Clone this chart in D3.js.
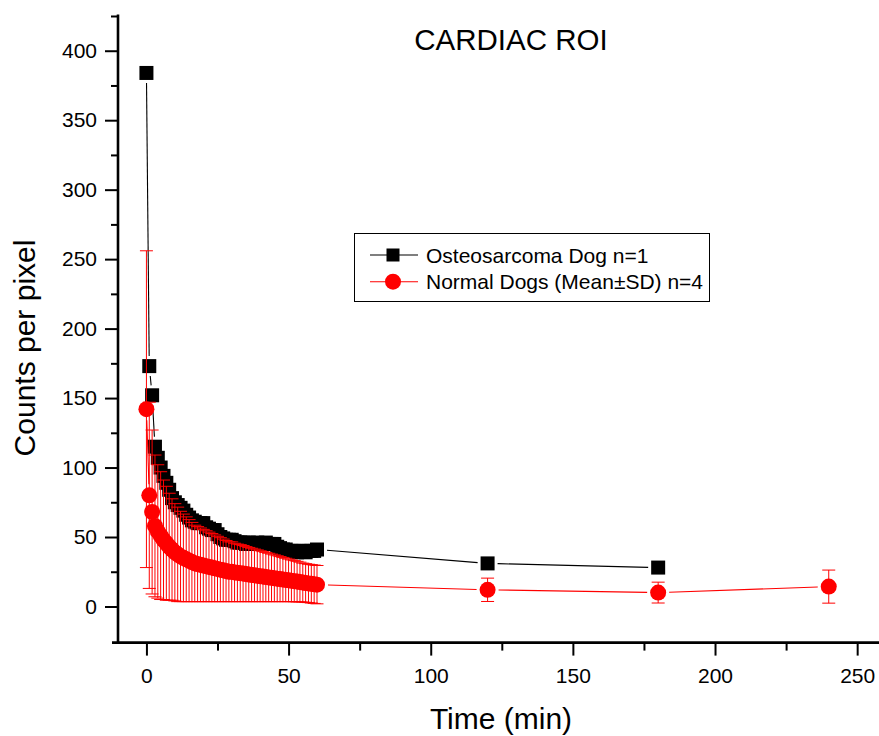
<!DOCTYPE html>
<html>
<head>
<meta charset="utf-8">
<script src="https://cdn.jsdelivr.net/npm/d3@7"></script>
<style>
  body { margin: 0; background: #fff; }
  svg { display: block; }
  text { font-family: Arial, "Liberation Sans", sans-serif; fill: #000; }
</style>
</head>
<body>
<svg id="chart" width="879" height="736"></svg>
<script>
// Cardiac ROI time-activity curves
const chartTitle = "CARDIAC ROI";
const xLabel = "Time (min)";
const yLabel = "Counts per pixel";
const seriesNames = ["Osteosarcoma Dog n=1", "Normal Dogs (Mean\u00B1SD) n=4"];

// Osteosarcoma dog (single animal)
const osteoTime = [0,1,2,3,4,5,6,7,8,9,10,11,12,13,14,15,16,17,18,19,20,21,22,23,24,25,26,27,28,29,30,
  31,32,33,34,35,36,37,38,39,40,41,42,43,44,45,46,47,48,49,50,51,52,53,54,55,56,57,58,59,60,120,180];
const osteoCounts = [384,173,152,115,107,100,94,89,84,78,
  75,73,71,69,66,64,62,61,60,60,
  60,57,56,55,55,52,50,49,48,48,
  48,47,46,46,46,45,46,45,45,46,
  45,45,46,45,45,45,43,42,41,41,
  40,40,40,39,40,40,39,40,40,40,41,
  31,28];

// Normal dogs (mean and SD, n=4)
const normalTime = [0,1,2,3,4,5,6,7,8,9,10,11,12,13,14,15,16,17,18,19,20,21,22,23,24,25,26,27,28,29,30,
  31,32,33,34,35,36,37,38,39,40,41,42,43,44,45,46,47,48,49,50,51,52,53,54,55,56,57,58,59,60,120,180,240];
const normalMean = [142,80,68,58,54,51,48,45.5,43,41,
  39,37.5,36,35,34,33,32,31,30.5,30,
  29.5,29,28.5,28,27.5,27,26.5,26,25.5,25,
  25,24.5,24.2,24,23.7,23.3,23,22.7,22.4,22.1,
  21.8,21.5,21.2,20.9,20.6,20.3,20,19.7,19.4,19.1,
  18.8,18.5,18.2,17.9,17.6,17.2,16.9,16.6,16.3,16,15.7,
  12,10,14.3];
const normalSD = [114,67,59,51,48,46,43,41,38.5,36.5,
  35,34,32.5,31.5,30.5,29.5,28.5,27.5,27,26.5,
  26,25.5,25,24.5,24,23.5,23,22.5,22,21.5,
  21.5,21,20.7,20.5,20.2,19.8,19.5,19.2,18.9,18.6,
  18.3,18,17.7,17.4,17.1,16.8,16.5,16.2,15.9,15.6,
  15.3,15,14.8,14.6,14.3,14,13.9,13.8,13.8,13.8,13.8,
  8.4,7.5,11.9];

// Axis ticks
const xMajorTicks = [0,50,100,150,200,250];
const xMinorTicks = [25,75,125,175,225];
const yMajorTicks = [0,50,100,150,200,250,300,350,400];
const yMinorTicks = [25,75,125,175,225,275,325,375,425];

const svg = d3.select("#chart");
svg.append("rect").attr("width", 879).attr("height", 736).attr("fill", "#fff");

const x = d3.scaleLinear().domain([-10, 260]).range([118, 885.6]);
const y = d3.scaleLinear().domain([-26, 426]).range([642.6, 14.6]);

const RED = "#ff0000";
const SQ = 14, R = 8, CAP = 13;

// connecting line split into segments with a small gap around each symbol
function drawGappedLine(g, xs, ys, gap, color) {
  for (let i = 0; i < xs.length - 1; i++) {
    const x1 = x(xs[i]), y1 = y(ys[i]), x2 = x(xs[i + 1]), y2 = y(ys[i + 1]);
    const dx = x2 - x1, dy = y2 - y1, len = Math.hypot(dx, dy);
    if (len <= 2 * gap) continue;
    const ux = dx / len, uy = dy / len;
    g.append("line")
      .attr("x1", x1 + ux * gap).attr("y1", y1 + uy * gap)
      .attr("x2", x2 - ux * gap).attr("y2", y2 - uy * gap)
      .attr("stroke", color).attr("stroke-width", 1.1);
  }
}

const plot = svg.append("g");

// Osteosarcoma series
drawGappedLine(plot.append("g"), osteoTime, osteoCounts, SQ / 2 + 3, "#000");
plot.append("g").selectAll("rect")
  .data(osteoTime.map((t, i) => [t, osteoCounts[i]]))
  .join("rect")
  .attr("x", d => x(d[0]) - SQ / 2)
  .attr("y", d => y(d[1]) - SQ / 2)
  .attr("width", SQ).attr("height", SQ)
  .attr("fill", "#000");

// Normal dogs series
drawGappedLine(plot.append("g"), normalTime, normalMean, R + 3, RED);
const normalData = normalTime.map((t, i) => ({ t, m: normalMean[i], sd: normalSD[i] }));
const eb = plot.append("g").attr("stroke", RED).attr("stroke-width", 1);
normalData.forEach(d => {
  const cx = x(d.t), yTop = y(d.m + d.sd), yBot = y(d.m - d.sd);
  eb.append("line").attr("x1", cx).attr("x2", cx).attr("y1", yTop).attr("y2", yBot);
  eb.append("line").attr("x1", cx - CAP / 2).attr("x2", cx + CAP / 2).attr("y1", yTop).attr("y2", yTop);
  eb.append("line").attr("x1", cx - CAP / 2).attr("x2", cx + CAP / 2).attr("y1", yBot).attr("y2", yBot);
});
plot.append("g").selectAll("circle")
  .data(normalData)
  .join("circle")
  .attr("cx", d => x(d.t))
  .attr("cy", d => y(d.m))
  .attr("r", R)
  .attr("fill", RED);

// Axes
const axisG = svg.append("g");
const yMajor = axisG.append("g").attr("transform", "translate(118,0)")
  .call(d3.axisLeft(y).tickValues(yMajorTicks).tickSize(13).tickPadding(8).tickFormat(d3.format("d")));
const yMinor = axisG.append("g").attr("transform", "translate(118,0)")
  .call(d3.axisLeft(y).tickValues(yMinorTicks).tickSize(7).tickFormat(""));
const xMajor = axisG.append("g").attr("transform", "translate(0,642.6)")
  .call(d3.axisBottom(x).tickValues(xMajorTicks).tickSize(13).tickPadding(12).tickFormat(d3.format("d")));
const xMinor = axisG.append("g").attr("transform", "translate(0,642.6)")
  .call(d3.axisBottom(x).tickValues(xMinorTicks).tickSize(8).tickFormat(""));
[yMajor, yMinor, xMajor, xMinor].forEach(a => {
  a.select(".domain").remove();
  a.selectAll(".tick line").attr("stroke", "#000").attr("stroke-width", 2);
  a.selectAll(".tick text").attr("font-size", 21).attr("font-family", "Arial, 'Liberation Sans', sans-serif").attr("fill", "#000");
});
axisG.append("line").attr("x1", 118).attr("x2", 118).attr("y1", y(426)).attr("y2", 642.6)
  .attr("stroke", "#000").attr("stroke-width", 2.6);
axisG.append("line").attr("x1", 112).attr("x2", 879).attr("y1", 642.6).attr("y2", 642.6)
  .attr("stroke", "#000").attr("stroke-width", 2.6);

// Titles
svg.append("text").attr("x", 511).attr("y", 50).attr("text-anchor", "middle")
  .attr("font-size", 29.5).text(chartTitle);
svg.append("text").attr("x", 501).attr("y", 728.5).attr("text-anchor", "middle")
  .attr("font-size", 30).text(xLabel);
svg.append("text").attr("transform", "translate(35,348) rotate(-90)").attr("text-anchor", "middle")
  .attr("font-size", 30).text(yLabel);

// Legend
const lg = svg.append("g");
lg.append("rect").attr("x", 354.5).attr("y", 233.5).attr("width", 355).attr("height", 68)
  .attr("fill", "#fff").attr("stroke", "#000").attr("stroke-width", 1);
const rows = [
  { cy: 255, color: "#000", shape: "square", label: seriesNames[0], base: 262.7 },
  { cy: 281.7, color: RED, shape: "circle", label: seriesNames[1], base: 289.3 }
];
rows.forEach(r => {
  lg.append("line").attr("x1", 370).attr("x2", 418).attr("y1", r.cy).attr("y2", r.cy)
    .attr("stroke", r.color).attr("stroke-width", 1.1);
  if (r.shape === "square") {
    lg.append("rect").attr("x", 393 - SQ / 2 + 0.5).attr("y", r.cy - SQ / 2 + 0.5)
      .attr("width", SQ - 1).attr("height", SQ - 1).attr("fill", r.color);
  } else {
    lg.append("circle").attr("cx", 393).attr("cy", r.cy).attr("r", R).attr("fill", r.color);
  }
  lg.append("text").attr("x", 426).attr("y", r.base).attr("font-size", 21).text(r.label);
});
</script>
</body>
</html>
